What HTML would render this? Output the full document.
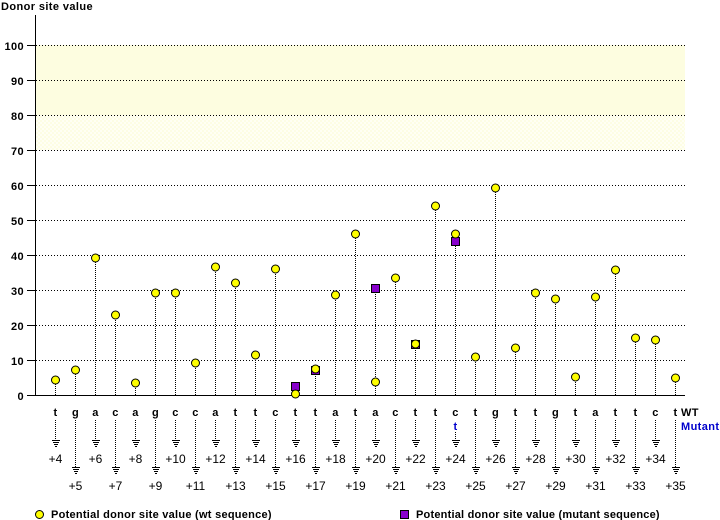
<!DOCTYPE html>
<html><head><style>body{margin:0;background:#fff}svg{display:block}text{font-family:"Liberation Sans",sans-serif;font-weight:bold;font-size:11px;letter-spacing:0.4px}text.n{font-weight:normal;font-size:12px;letter-spacing:0}</style></head><body>
<svg width="720" height="520" xmlns="http://www.w3.org/2000/svg">
<defs><pattern id="p" width="4" height="4" patternUnits="userSpaceOnUse"><rect width="4" height="4" fill="#fffff4"/><rect width="2" height="2" fill="#fdfde4"/><rect x="2" y="2" width="2" height="2" fill="#fdfde4"/></pattern></defs>
<rect x="36" y="45" width="649" height="70" fill="#fdfde0"/>
<rect x="36" y="115" width="649" height="35" fill="url(#p)"/>
<text x="1" y="10">Donor site value</text>
<g stroke="#000" stroke-dasharray="1,2" stroke-width="1">
<line x1="36" y1="45.5" x2="685" y2="45.5"/><line x1="36" y1="80.5" x2="685" y2="80.5"/><line x1="36" y1="115.5" x2="685" y2="115.5"/><line x1="36" y1="150.5" x2="685" y2="150.5"/><line x1="36" y1="185.5" x2="685" y2="185.5"/><line x1="36" y1="220.5" x2="685" y2="220.5"/><line x1="36" y1="255.5" x2="685" y2="255.5"/><line x1="36" y1="290.5" x2="685" y2="290.5"/><line x1="36" y1="325.5" x2="685" y2="325.5"/><line x1="36" y1="360.5" x2="685" y2="360.5"/>
</g>
<g stroke="#000"><line x1="35.5" y1="15" x2="35.5" y2="396"/><line x1="27" y1="395.5" x2="685" y2="395.5"/>
<line x1="27" y1="45.5" x2="35" y2="45.5"/><line x1="27" y1="80.5" x2="35" y2="80.5"/><line x1="27" y1="115.5" x2="35" y2="115.5"/><line x1="27" y1="150.5" x2="35" y2="150.5"/><line x1="27" y1="185.5" x2="35" y2="185.5"/><line x1="27" y1="220.5" x2="35" y2="220.5"/><line x1="27" y1="255.5" x2="35" y2="255.5"/><line x1="27" y1="290.5" x2="35" y2="290.5"/><line x1="27" y1="325.5" x2="35" y2="325.5"/><line x1="27" y1="360.5" x2="35" y2="360.5"/></g>
<g text-anchor="end"><text x="24" y="50">100</text><text x="24" y="85">90</text><text x="24" y="120">80</text><text x="24" y="155">70</text><text x="24" y="190">60</text><text x="24" y="225">50</text><text x="24" y="260">40</text><text x="24" y="295">30</text><text x="24" y="330">20</text><text x="24" y="365">10</text><text x="24" y="400">0</text></g>
<g stroke="#000" stroke-dasharray="1,1">
<line x1="55.5" y1="395" x2="55.5" y2="380"/><line x1="75.5" y1="395" x2="75.5" y2="370"/><line x1="95.5" y1="395" x2="95.5" y2="258"/><line x1="115.5" y1="395" x2="115.5" y2="315"/><line x1="135.5" y1="395" x2="135.5" y2="383"/><line x1="155.5" y1="395" x2="155.5" y2="293"/><line x1="175.5" y1="395" x2="175.5" y2="293"/><line x1="195.5" y1="395" x2="195.5" y2="363"/><line x1="215.5" y1="395" x2="215.5" y2="267"/><line x1="235.5" y1="395" x2="235.5" y2="283"/><line x1="255.5" y1="395" x2="255.5" y2="355"/><line x1="275.5" y1="395" x2="275.5" y2="269"/><line x1="295.5" y1="395" x2="295.5" y2="386"/><line x1="315.5" y1="395" x2="315.5" y2="369"/><line x1="335.5" y1="395" x2="335.5" y2="295"/><line x1="355.5" y1="395" x2="355.5" y2="234"/><line x1="375.5" y1="395" x2="375.5" y2="288"/><line x1="395.5" y1="395" x2="395.5" y2="278"/><line x1="415.5" y1="395" x2="415.5" y2="344"/><line x1="435.5" y1="395" x2="435.5" y2="206"/><line x1="455.5" y1="395" x2="455.5" y2="234"/><line x1="475.5" y1="395" x2="475.5" y2="357"/><line x1="495.5" y1="395" x2="495.5" y2="188"/><line x1="515.5" y1="395" x2="515.5" y2="348"/><line x1="535.5" y1="395" x2="535.5" y2="293"/><line x1="555.5" y1="395" x2="555.5" y2="299"/><line x1="575.5" y1="395" x2="575.5" y2="377"/><line x1="595.5" y1="395" x2="595.5" y2="297"/><line x1="615.5" y1="395" x2="615.5" y2="270"/><line x1="635.5" y1="395" x2="635.5" y2="338"/><line x1="655.5" y1="395" x2="655.5" y2="340"/><line x1="675.5" y1="395" x2="675.5" y2="378"/>
</g>
<g fill="#8800cc" stroke="#000"><rect x="291.5" y="382.5" width="8" height="8"/><rect x="311.5" y="366.5" width="8" height="8"/><rect x="371.5" y="284.5" width="8" height="8"/><rect x="411.5" y="340.5" width="8" height="8"/><rect x="451.5" y="237.5" width="8" height="8"/></g>
<g fill="#ffff00" stroke="#000"><circle cx="55.5" cy="380" r="4"/><circle cx="75.5" cy="370" r="4"/><circle cx="95.5" cy="258" r="4"/><circle cx="115.5" cy="315" r="4"/><circle cx="135.5" cy="383" r="4"/><circle cx="155.5" cy="293" r="4"/><circle cx="175.5" cy="293" r="4"/><circle cx="195.5" cy="363" r="4"/><circle cx="215.5" cy="267" r="4"/><circle cx="235.5" cy="283" r="4"/><circle cx="255.5" cy="355" r="4"/><circle cx="275.5" cy="269" r="4"/><circle cx="295.5" cy="394" r="4"/><circle cx="315.5" cy="369" r="4"/><circle cx="335.5" cy="295" r="4"/><circle cx="355.5" cy="234" r="4"/><circle cx="375.5" cy="382" r="4"/><circle cx="395.5" cy="278" r="4"/><circle cx="415.5" cy="344" r="4"/><circle cx="435.5" cy="206" r="4"/><circle cx="455.5" cy="234" r="4"/><circle cx="475.5" cy="357" r="4"/><circle cx="495.5" cy="188" r="4"/><circle cx="515.5" cy="348" r="4"/><circle cx="535.5" cy="293" r="4"/><circle cx="555.5" cy="299" r="4"/><circle cx="575.5" cy="377" r="4"/><circle cx="595.5" cy="297" r="4"/><circle cx="615.5" cy="270" r="4"/><circle cx="635.5" cy="338" r="4"/><circle cx="655.5" cy="340" r="4"/><circle cx="675.5" cy="378" r="4"/></g>
<g text-anchor="middle"><text x="55.5" y="416">t</text><text x="75.5" y="416">g</text><text x="95.5" y="416">a</text><text x="115.5" y="416">c</text><text x="135.5" y="416">a</text><text x="155.5" y="416">g</text><text x="175.5" y="416">c</text><text x="195.5" y="416">c</text><text x="215.5" y="416">a</text><text x="235.5" y="416">t</text><text x="255.5" y="416">t</text><text x="275.5" y="416">c</text><text x="295.5" y="416">t</text><text x="315.5" y="416">t</text><text x="335.5" y="416">a</text><text x="355.5" y="416">t</text><text x="375.5" y="416">a</text><text x="395.5" y="416">c</text><text x="415.5" y="416">t</text><text x="435.5" y="416">t</text><text x="455.5" y="416">c</text><text x="475.5" y="416">t</text><text x="495.5" y="416">g</text><text x="515.5" y="416">t</text><text x="535.5" y="416">t</text><text x="555.5" y="416">g</text><text x="575.5" y="416">t</text><text x="595.5" y="416">a</text><text x="615.5" y="416">t</text><text x="635.5" y="416">t</text><text x="655.5" y="416">c</text><text x="675.5" y="416">t</text>
<text x="455.5" y="430" fill="#0000cc">t</text></g>
<text x="681" y="416">WT</text><text x="681" y="430" fill="#0000cc">Mutant</text>
<g stroke="#000" stroke-dasharray="1,1">
<line x1="55.5" y1="420" x2="55.5" y2="440"/><line x1="95.5" y1="420" x2="95.5" y2="440"/><line x1="135.5" y1="420" x2="135.5" y2="440"/><line x1="175.5" y1="420" x2="175.5" y2="440"/><line x1="215.5" y1="420" x2="215.5" y2="440"/><line x1="255.5" y1="420" x2="255.5" y2="440"/><line x1="295.5" y1="420" x2="295.5" y2="440"/><line x1="335.5" y1="420" x2="335.5" y2="440"/><line x1="375.5" y1="420" x2="375.5" y2="440"/><line x1="415.5" y1="420" x2="415.5" y2="440"/><line x1="455.5" y1="432" x2="455.5" y2="440"/><line x1="495.5" y1="420" x2="495.5" y2="440"/><line x1="535.5" y1="420" x2="535.5" y2="440"/><line x1="575.5" y1="420" x2="575.5" y2="440"/><line x1="615.5" y1="420" x2="615.5" y2="440"/><line x1="655.5" y1="420" x2="655.5" y2="440"/>
<line x1="75.5" y1="420" x2="75.5" y2="467"/><line x1="115.5" y1="420" x2="115.5" y2="467"/><line x1="155.5" y1="420" x2="155.5" y2="467"/><line x1="195.5" y1="420" x2="195.5" y2="467"/><line x1="235.5" y1="420" x2="235.5" y2="467"/><line x1="275.5" y1="420" x2="275.5" y2="467"/><line x1="315.5" y1="420" x2="315.5" y2="467"/><line x1="355.5" y1="420" x2="355.5" y2="467"/><line x1="395.5" y1="420" x2="395.5" y2="467"/><line x1="435.5" y1="420" x2="435.5" y2="467"/><line x1="475.5" y1="420" x2="475.5" y2="467"/><line x1="515.5" y1="420" x2="515.5" y2="467"/><line x1="555.5" y1="420" x2="555.5" y2="467"/><line x1="595.5" y1="420" x2="595.5" y2="467"/><line x1="635.5" y1="420" x2="635.5" y2="467"/><line x1="675.5" y1="420" x2="675.5" y2="467"/>
</g>
<g stroke="#000" fill="none">
<path d="M52 440.5h8M53 442.5h6M54 444.5h4M55 446.5h2" id="g"/>
<use href="#g" x="40"/><use href="#g" x="80"/><use href="#g" x="120"/><use href="#g" x="160"/><use href="#g" x="200"/><use href="#g" x="240"/><use href="#g" x="280"/><use href="#g" x="320"/><use href="#g" x="360"/><use href="#g" x="400"/><use href="#g" x="440"/><use href="#g" x="480"/><use href="#g" x="520"/><use href="#g" x="560"/><use href="#g" x="600"/>
<use href="#g" x="20" y="27"/><use href="#g" x="60" y="27"/><use href="#g" x="100" y="27"/><use href="#g" x="140" y="27"/><use href="#g" x="180" y="27"/><use href="#g" x="220" y="27"/><use href="#g" x="260" y="27"/><use href="#g" x="300" y="27"/><use href="#g" x="340" y="27"/><use href="#g" x="380" y="27"/><use href="#g" x="420" y="27"/><use href="#g" x="460" y="27"/><use href="#g" x="500" y="27"/><use href="#g" x="540" y="27"/><use href="#g" x="580" y="27"/><use href="#g" x="620" y="27"/>
</g>
<g text-anchor="middle"><text class="n" x="55.5" y="463">+4</text><text class="n" x="95.5" y="463">+6</text><text class="n" x="135.5" y="463">+8</text><text class="n" x="175.5" y="463">+10</text><text class="n" x="215.5" y="463">+12</text><text class="n" x="255.5" y="463">+14</text><text class="n" x="295.5" y="463">+16</text><text class="n" x="335.5" y="463">+18</text><text class="n" x="375.5" y="463">+20</text><text class="n" x="415.5" y="463">+22</text><text class="n" x="455.5" y="463">+24</text><text class="n" x="495.5" y="463">+26</text><text class="n" x="535.5" y="463">+28</text><text class="n" x="575.5" y="463">+30</text><text class="n" x="615.5" y="463">+32</text><text class="n" x="655.5" y="463">+34</text>
<text class="n" x="75.5" y="490">+5</text><text class="n" x="115.5" y="490">+7</text><text class="n" x="155.5" y="490">+9</text><text class="n" x="195.5" y="490">+11</text><text class="n" x="235.5" y="490">+13</text><text class="n" x="275.5" y="490">+15</text><text class="n" x="315.5" y="490">+17</text><text class="n" x="355.5" y="490">+19</text><text class="n" x="395.5" y="490">+21</text><text class="n" x="435.5" y="490">+23</text><text class="n" x="475.5" y="490">+25</text><text class="n" x="515.5" y="490">+27</text><text class="n" x="555.5" y="490">+29</text><text class="n" x="595.5" y="490">+31</text><text class="n" x="635.5" y="490">+33</text><text class="n" x="675.5" y="490">+35</text></g>
<circle cx="39.5" cy="514.5" r="4" fill="#ffff00" stroke="#000"/>
<text x="51" y="518" textLength="221">Potential donor site value (wt sequence)</text>
<rect x="400.5" y="510.5" width="8" height="8" fill="#8800cc" stroke="#000"/>
<text x="416" y="518" textLength="244">Potential donor site value (mutant sequence)</text>
</svg>
</body></html>
